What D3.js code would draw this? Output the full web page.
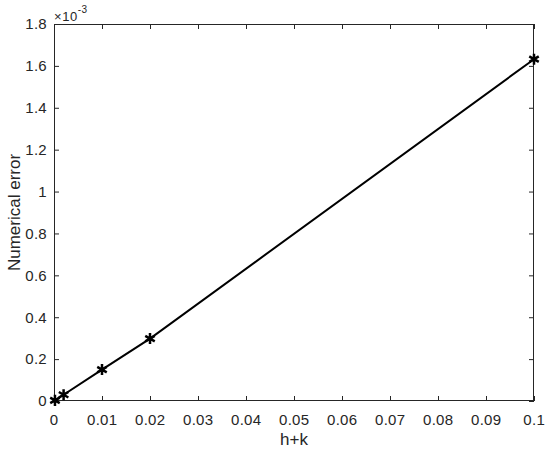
<!DOCTYPE html>
<html><head><meta charset="utf-8">
<script src="https://cdn.jsdelivr.net/npm/d3@7"></script>
<style>
body{margin:0;background:#fff;}
svg text{font-family:"Liberation Sans",Arial,sans-serif;fill:#262626;}
</style></head>
<body>
<svg id="c" width="550" height="454"></svg>
<script>
const xValues = [0.0002, 0.002, 0.01, 0.02, 0.1];
const errValues = [0.000003, 0.00003, 0.00015, 0.000298, 0.001632];
const xTicks = [0,0.01,0.02,0.03,0.04,0.05,0.06,0.07,0.08,0.09,0.1];
const yTicks = [0,0.2,0.4,0.6,0.8,1,1.2,1.4,1.6,1.8];
const xLabel = "h+k", yLabel = "Numerical error";

const svg = d3.select("#c");
const L=54, R=534, T=24, B=401;
const x = d3.scaleLinear().domain([0,0.1]).range([L,R]);
const y = d3.scaleLinear().domain([0,1.8e-3]).range([B,T]);
const ax = "#262626", tl = 5;

svg.append("rect").attr("x",0).attr("y",0).attr("width",550).attr("height",454).attr("fill","#fff");

const xAx = svg.append("g").attr("transform",`translate(0,${B})`)
  .call(d3.axisBottom(x).tickValues(xTicks).tickSize(-tl).tickFormat(""));
const xTop = svg.append("g").attr("transform",`translate(0,${T})`)
  .call(d3.axisTop(x).tickValues(xTicks).tickSize(-tl).tickFormat(""));
const yAx = svg.append("g").attr("transform",`translate(${L},0)`)
  .call(d3.axisLeft(y).tickValues(yTicks.map(v=>v*1e-3)).tickSize(-tl).tickFormat(""));
const yR = svg.append("g").attr("transform",`translate(${R},0)`)
  .call(d3.axisRight(y).tickValues(yTicks.map(v=>v*1e-3)).tickSize(-tl).tickFormat(""));
[xAx,xTop,yAx,yR].forEach(g=>{
  g.select(".domain").remove();
  g.selectAll("text").remove();
  g.selectAll("line").attr("stroke",ax).attr("stroke-width",1);
});
svg.selectAll(".xl").data(xTicks).join("text").attr("class","xl")
  .attr("x",d=>x(d)+0.2).attr("y",B+23.5).attr("text-anchor","middle")
  .attr("font-size",15).attr("letter-spacing",0.3).attr("fill",ax).text(d=>String(+d.toFixed(2)));
svg.selectAll(".yl").data(yTicks).join("text").attr("class","yl")
  .attr("x",L-7).attr("y",d=>y(d*1e-3)+5.3).attr("text-anchor","end")
  .attr("font-size",15).attr("letter-spacing",0.3).attr("fill",ax).text(d=>String(d));

svg.append("rect").attr("x",L+0.5).attr("y",T+0.5).attr("width",R-L-1).attr("height",B-T-1)
  .attr("fill","none").attr("stroke",ax).attr("stroke-width",1);

const ex = svg.append("text").attr("x",L).attr("y",20.5).attr("font-size",13).attr("letter-spacing",0.6).attr("fill",ax);
ex.append("tspan").text("\u00d710");
ex.append("tspan").attr("dy",-8).attr("font-size",10).attr("letter-spacing",0.3).text("-3");

svg.append("text").attr("x",(L+R)/2).attr("y",445).attr("text-anchor","middle").attr("font-size",17).attr("fill",ax).text(xLabel);
svg.append("text").attr("transform",`translate(20,${(T+B)/2}) rotate(-90)`).attr("text-anchor","middle").attr("font-size",17).attr("fill",ax).text(yLabel);

const data = xValues.map((v,i)=>({x:v,y:errValues[i]}));
svg.append("path").datum(data).attr("fill","none").attr("stroke","#000").attr("stroke-width",2)
  .attr("d", d3.line().x(d=>x(d.x)).y(d=>y(d.y)));
const star = d3.symbol().type(d3.symbolAsterisk).size(85);
svg.selectAll(".m").data(data).join("path").attr("class","m")
  .attr("transform",d=>`translate(${x(d.x)},${y(d.y)})`).attr("d",star)
  .attr("fill","none").attr("stroke","#000").attr("stroke-width",2.5);
</script>
</body></html>
